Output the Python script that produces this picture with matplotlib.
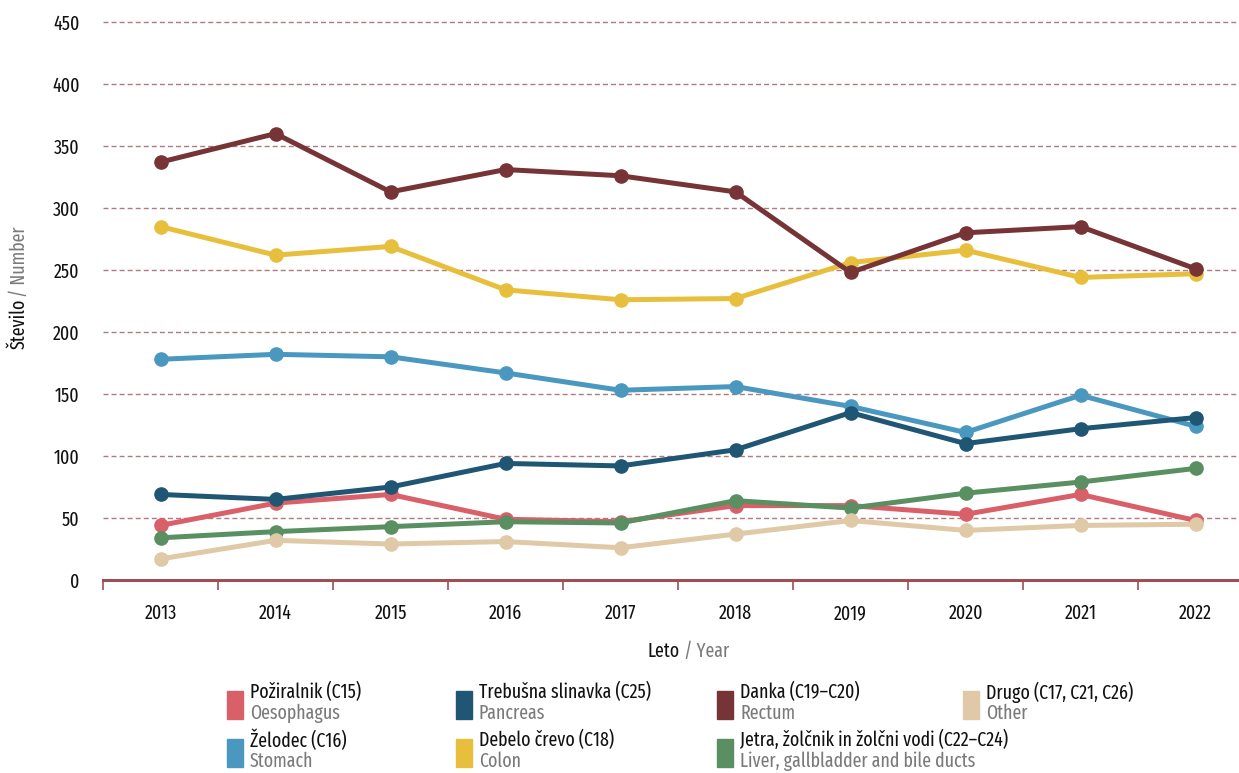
import numpy as np
import matplotlib
matplotlib.use('Agg')
import matplotlib.pyplot as plt
from matplotlib.patches import Rectangle

plt.rcParams['font.family'] = ['Fira Sans Extra Condensed', 'DejaVu Sans']

# podatki
leta = ['2013', '2014', '2015', '2016', '2017', '2018', '2019', '2020', '2021', '2022']

poziralnik = [44, 62, 69, 49, 47, 60, 60, 53, 69, 48]
zelodec = [178, 182, 180, 167, 153, 156, 140, 119, 149, 124]
trebusna = [69, 65, 75, 94, 92, 105, 135, 110, 122, 131]
debelo = [285, 262, 269, 234, 226, 227, 256, 266, 244, 247]
danka = [337, 360, 313, 331, 326, 313, 248, 280, 285, 251]
jetra = [34, 39, 43, 47, 46, 64, 58, 70, 79, 90]
drugo = [17, 32, 29, 31, 26, 37, 48, 40, 44, 45]

serije = [
    (poziralnik, '#d95f69', 'Požiralnik (C15)', 'Oesophagus'),
    (zelodec, '#4a98c0', 'Želodec (C16)', 'Stomach'),
    (trebusna, '#1f5673', 'Trebušna slinavka (C25)', 'Pancreas'),
    (debelo, '#e8bf3d', 'Debelo črevo (C18)', 'Colon'),
    (danka, '#773436', 'Danka (C19–C20)', 'Rectum'),
    (jetra, '#5a8f62', 'Jetra, žolčnik in žolčni vodi (C22–C24)', 'Liver, gallbladder and bile ducts'),
    (drugo, '#dfc9a6', 'Drugo (C17, C21, C26)', 'Other'),
]

W, H = 1239, 773
FS = 14
fig = plt.figure(figsize=(W / 100, H / 100), dpi=100)
ax = fig.add_axes([103 / W, 1 - 580 / H, (1253 - 103) / W, (580 - 22) / H])

x = np.arange(len(leta))
for vals, barva, _, _ in serije:
    ax.plot(x, vals, color=barva, lw=3.6, marker='o', markersize=9.5,
            solid_capstyle='round', zorder=3)

ax.set_xlim(-0.5, len(leta) - 0.5)
ax.set_ylim(0, 450)
ax.set_yticks(np.arange(0, 451, 50))
ax.set_xticks(x)
ax.set_xticklabels(leta)
ax.set_xticks(np.arange(-0.5, len(leta), 1), minor=True)
ax.tick_params(axis='x', which='major', length=0, pad=17, labelsize=FS, labelcolor='#111111')
ax.tick_params(axis='x', which='minor', length=7, width=1.2, color='#9b5055', direction='out')
ax.tick_params(axis='y', length=0, pad=17, labelsize=FS, labelcolor='#111111')

for s in ['top', 'right', 'left']:
    ax.spines[s].set_visible(False)
ax.spines['bottom'].set_color('#9b5055')
ax.spines['bottom'].set_linewidth(2.2)
ax.spines['bottom'].set_zorder(4)

ax.yaxis.grid(True, color='#b07a7e', lw=1, dashes=(3.6, 2.2))
ax.set_axisbelow(True)
for gl in ax.get_ygridlines():
    gl.set_clip_on(False)

# oznake osi
fig.text(680 / W, 1 - 651 / H, 'Leto', ha='right', va='center', fontsize=FS, color='#111111')
fig.text(680 / W, 1 - 651 / H, ' / Year', ha='left', va='center', fontsize=FS, color='#7a7a7a')
fig.text(19 / W, 1 - 299 / H, 'Število', rotation=90, ha='center', va='top', fontsize=FS, color='#111111')
fig.text(19 / W, 1 - 297 / H, '/ Number', rotation=90, ha='center', va='bottom', fontsize=FS, color='#7a7a7a')

# legenda
stolpci = [227, 456, 717, 963]
vrste = [691, 739]
for i, (_, barva, slo, ang) in enumerate(serije):
    c, r = i // 2, i % 2
    x0, y0 = stolpci[c], vrste[r]
    fig.patches.append(Rectangle((x0 / W, 1 - (y0 + 28) / H), 16 / W, 28 / H,
                                 transform=fig.transFigure, color=barva))
    fig.text((x0 + 23) / W, 1 - (y0 + 1) / H, slo, ha='left', va='center',
             fontsize=FS, color='#111111')
    fig.text((x0 + 23) / W, 1 - (y0 + 22) / H, ang, ha='left', va='center',
             fontsize=FS, color='#7a7a7a')

fig.savefig('out.png', dpi=100)
